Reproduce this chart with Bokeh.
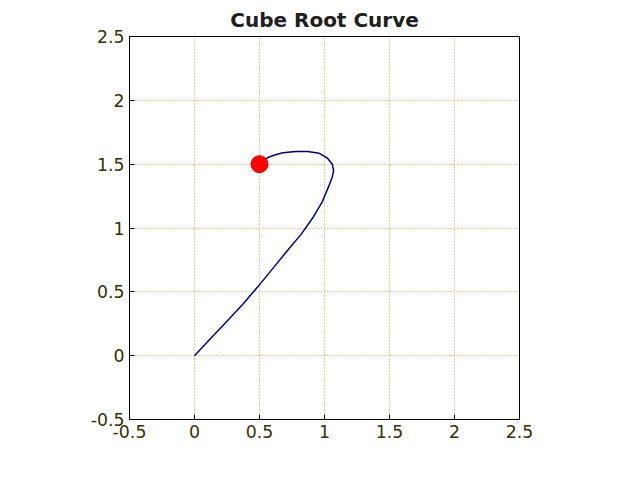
from bokeh.plotting import figure
from bokeh.models import Range1d, FixedTicker, CustomJSTickFormatter
from bokeh.embed import file_html
from bokeh.resources import INLINE

curve_x = [0.0, 0.12, 0.25, 0.37, 0.485, 0.6, 0.72, 0.82, 0.91, 0.98, 1.03, 1.06, 1.07, 1.06, 1.02, 0.96, 0.87, 0.78, 0.68, 0.61, 0.56, 0.52, 0.5]
curve_y = [0.0, 0.13, 0.27, 0.40, 0.537, 0.68, 0.83, 0.95, 1.08, 1.2, 1.32, 1.40, 1.45, 1.50, 1.55, 1.585, 1.60, 1.60, 1.59, 1.57, 1.55, 1.52, 1.5]
dot_x = [0.5]
dot_y = [1.5]
ticks = [-0.5, 0, 0.5, 1, 1.5, 2, 2.5]

p = figure(width=624, height=464, output_backend="svg", toolbar_location=None,
           x_range=Range1d(-0.5, 2.5), y_range=Range1d(-0.5, 2.5),
           min_border_left=129, min_border_right=105, min_border_top=28, min_border_bottom=45,
           title="Cube Root Curve")
p.title.align = "center"
p.title.text_font = "DejaVu Sans"
p.title.text_font_size = "15pt"
p.title.text_font_style = "bold"
p.title.text_color = "#202020"
p.outline_line_color = "black"

for ax in list(p.xaxis) + list(p.yaxis):
    ax.ticker = FixedTicker(ticks=ticks)
    ax.formatter = CustomJSTickFormatter(code="return tick.toString();")
    ax.major_label_text_font = "DejaVu Sans"
    ax.major_label_text_font_size = "13pt"
    ax.major_label_text_color = "#333300"
    ax.minor_tick_line_color = None
    ax.major_tick_in = 5
    ax.major_tick_out = 0
    ax.axis_line_color = "black"

for g in [p.xgrid[0], p.ygrid[0]]:
    g.ticker = FixedTicker(ticks=ticks)
    g.grid_line_color = "#b0b040"
    g.grid_line_dash = "1 2"

p.line(curve_x, curve_y, line_color="#00008b", line_width=1.5)
p.scatter(dot_x, dot_y, size=17, fill_color="red", line_color="red")

open("out.html", "w").write(file_html(p, INLINE))
